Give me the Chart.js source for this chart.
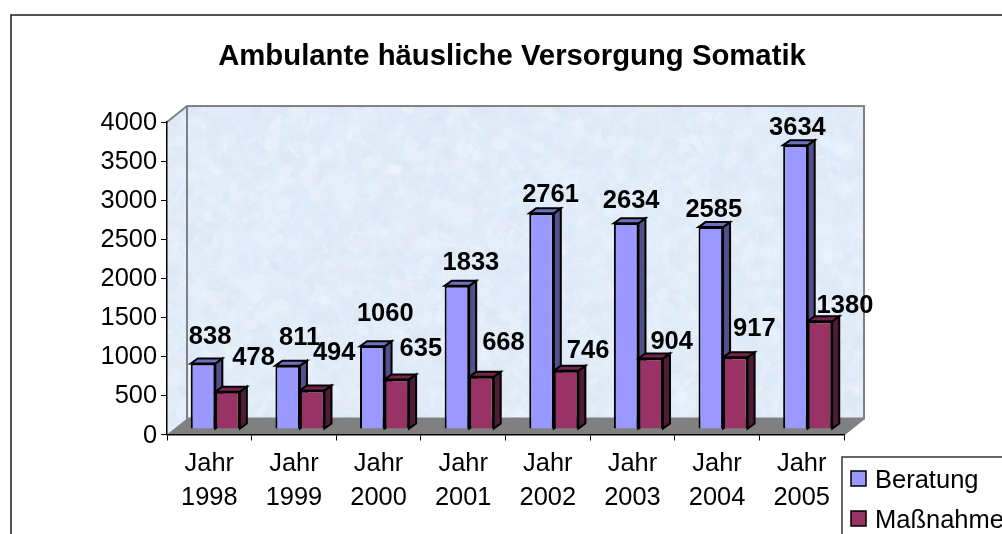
<!DOCTYPE html>
<html>
<head>
<meta charset="utf-8">
<title>Ambulante häusliche Versorgung Somatik</title>
<script src="https://cdn.jsdelivr.net/npm/chart.js@4/dist/chart.umd.min.js"></script>
<style>
  html, body { margin: 0; padding: 0; background: #fff; overflow: hidden; }
  canvas { display: block; }
</style>
</head>
<body>
<canvas id="chart" width="1002" height="534"></canvas>
<script>
const categories = [['Jahr', '1998'], ['Jahr', '1999'], ['Jahr', '2000'], ['Jahr', '2001'],
  ['Jahr', '2002'], ['Jahr', '2003'], ['Jahr', '2004'], ['Jahr', '2005']];
const beratung = [838, 811, 1060, 1833, 2761, 2634, 2585, 3634];
const massnahme = [478, 494, 635, 668, 746, 904, 917, 1380];

// the labels were moved by hand in the original, so each has its own nudge from the bar top
const labelNudge = [
  [[13, -32], [18, -33], [19, -38], [20, -28], [15, -24], [11, -28], [9, -23], [8, -23]],
  [[32, -39], [28, -43], [30, -36], [28, -39], [28, -25], [27, -22], [25, -34], [31, -21]]
];

const FONT = '"Liberation Sans", Arial, sans-serif';
const faces = [
  { front: '#9999ff', side: '#50508c', top: '#7070c0' },
  { front: '#993366', side: '#4f1c35', top: '#752548' }
];
// depth of the box and depth of the bars inside it
const wall = { dx: 20, dy: 16 };
const barShift = { dx: 6, dy: 5.5 };
const barDepth = { dx: 7, dy: 5 };

// mottled backdrop, seeded so that it looks the same on every run
function makeTexture(w, h) {
  const c = document.createElement('canvas');
  c.width = w;
  c.height = h;
  const g = c.getContext('2d');
  let seed = 1234;
  const rnd = () => (seed = (seed * 16807) % 2147483647) / 2147483647;
  g.fillStyle = '#e2edfa';
  g.fillRect(0, 0, w, h);
  const tints = ['#d8e5f6', '#edf4fd', '#dceefc', '#e7e9f4', '#dce8f7', '#f0f5fd', '#dde7f1'];
  for (let i = 0; i < 6000; i++) {
    g.fillStyle = tints[Math.floor(rnd() * tints.length)];
    g.globalAlpha = 0.15 + rnd() * 0.3;
    g.beginPath();
    g.ellipse(rnd() * w, rnd() * h, 2 + rnd() * 9, 2 + rnd() * 6, rnd() * 3, 0, Math.PI * 2);
    g.fill();
  }
  g.strokeStyle = '#f3f7fe';
  for (let i = 0; i < 700; i++) {
    const x = rnd() * w, y = rnd() * h;
    g.globalAlpha = 0.2 + rnd() * 0.3;
    g.beginPath();
    g.moveTo(x, y);
    g.lineTo(x + (rnd() - 0.5) * 30, y + (rnd() - 0.5) * 30);
    g.stroke();
  }
  return c;
}

function poly(ctx, pts, fill, stroke, lw) {
  ctx.beginPath();
  pts.forEach((p, i) => (i ? ctx.lineTo(p[0], p[1]) : ctx.moveTo(p[0], p[1])));
  ctx.closePath();
  if (fill) {
    ctx.fillStyle = fill;
    ctx.fill();
  }
  if (stroke) {
    ctx.strokeStyle = stroke;
    ctx.lineWidth = lw;
    ctx.stroke();
  }
}

const boxPlugin = {
  id: 'box',
  afterLayout(chart) {
    // title is centred over the frame, not the canvas
    chart.titleBlock.left = 22;
    chart.titleBlock.right = 1002;
  },
  beforeDraw(chart) {
    const { ctx, chartArea: a } = chart;
    const bx = a.left + wall.dx, tx = a.top - wall.dy, by = a.bottom - wall.dy;
    ctx.save();
    ctx.fillStyle = '#fff';
    ctx.fillRect(0, 0, chart.width, chart.height);
    ctx.strokeStyle = '#1a1a1a';
    ctx.lineWidth = 1.5;
    ctx.strokeRect(11, 15, chart.width + 20, chart.height + 20);

    const tex = makeTexture(a.right - a.left + 2 * wall.dx, a.bottom - a.top + 2 * wall.dy);
    ctx.save();
    poly(ctx, [[a.left, a.top], [bx, tx], [bx, by], [a.left, a.bottom]]);
    ctx.clip();
    ctx.drawImage(tex, a.left, tx);
    ctx.restore();
    ctx.drawImage(tex, wall.dx, 0, a.right - a.left, by - tx, bx, tx, a.right - a.left, by - tx);

    poly(ctx, [[a.left, a.bottom], [bx, by], [a.right + wall.dx, by], [a.right, a.bottom]], '#808080');
    ctx.strokeStyle = '#808080';
    ctx.lineWidth = 2;
    ctx.strokeRect(bx, tx, a.right - a.left, by - tx);
    ctx.beginPath();
    ctx.moveTo(a.left, a.top);
    ctx.lineTo(bx, tx);
    ctx.moveTo(a.right, a.bottom);
    ctx.lineTo(a.right + wall.dx, by);
    ctx.stroke();
    ctx.restore();
  },
  beforeDatasetsDraw(chart) {
    // side and top faces first, the library then paints the fronts over them
    const { ctx } = chart;
    ctx.save();
    chart.data.datasets.forEach((ds, i) => {
      chart.getDatasetMeta(i).data.forEach(bar => {
        const l = bar.x - bar.width / 2 + barShift.dx, r = l + bar.width;
        const t = bar.y - barShift.dy, b = bar.base - barShift.dy;
        const d = barDepth;
        poly(ctx, [[r, t], [r + d.dx, t - d.dy], [r + d.dx, b - d.dy], [r, b]], faces[i].side, '#000', 2);
        poly(ctx, [[l, t], [l + d.dx, t - d.dy], [r + d.dx, t - d.dy], [r, t]], faces[i].top, '#000', 2);
      });
    });
    ctx.restore();
  },
  beforeDatasetDraw(chart) {
    chart.ctx.save();
    chart.ctx.translate(barShift.dx, -barShift.dy);
  },
  afterDatasetDraw(chart) {
    chart.ctx.restore();
  },
  afterDatasetsDraw(chart) {
    const { ctx } = chart;
    ctx.save();
    ctx.font = 'bold 25.5px ' + FONT;
    ctx.fillStyle = '#000';
    ctx.textAlign = 'center';
    ctx.textBaseline = 'middle';
    chart.data.datasets.forEach((ds, i) => {
      chart.getDatasetMeta(i).data.forEach((bar, j) => {
        const n = labelNudge[i][j];
        ctx.fillText(String(ds.data[j]), bar.x + n[0], bar.y + n[1]);
      });
    });
    ctx.restore();
  },
  afterDraw(chart) {
    // legend box runs off the canvas like in the reference
    const { ctx } = chart;
    ctx.save();
    ctx.fillStyle = '#fff';
    ctx.fillRect(842, 457, 200, 100);
    ctx.strokeStyle = '#333';
    ctx.lineWidth = 1.5;
    ctx.strokeRect(842, 457, 200, 100);
    ctx.font = '25.5px ' + FONT;
    ctx.textAlign = 'left';
    ctx.textBaseline = 'middle';
    chart.data.datasets.forEach((ds, i) => {
      const y = 471 + i * 40;
      ctx.fillStyle = faces[i].front;
      ctx.fillRect(851, y, 15, 15);
      ctx.strokeStyle = '#000';
      ctx.strokeRect(851, y, 15, 15);
      ctx.fillStyle = '#000';
      ctx.fillText(ds.label, 875, y + 10);
    });
    ctx.restore();
  }
};

new Chart(document.getElementById('chart'), {
  type: 'bar',
  data: {
    labels: categories,
    datasets: [
      { label: 'Beratung', data: beratung, backgroundColor: faces[0].front, borderColor: '#000', borderWidth: 2,
        barPercentage: 1, categoryPercentage: 0.58 },
      { label: 'Maßnahme', data: massnahme, backgroundColor: faces[1].front, borderColor: '#000', borderWidth: 2,
        barPercentage: 1, categoryPercentage: 0.58 }
    ]
  },
  options: {
    responsive: false,
    animation: false,
    layout: { padding: { left: 0, top: 0, right: 158, bottom: 0 } },
    plugins: {
      legend: { display: false },
      tooltip: { enabled: false },
      title: {
        display: true,
        text: 'Ambulante häusliche Versorgung Somatik',
        color: '#000',
        font: { family: FONT, size: 29.3, weight: 'bold', lineHeight: 1.2 },
        padding: { top: 39.5, bottom: 47.4 }
      }
    },
    scales: {
      x: {
        afterFit: s => { s.height = 99.5; },
        grid: { offset: true, drawOnChartArea: false, color: '#000', tickLength: 6 },
        border: { display: true, color: '#000', width: 1.5 },
        ticks: {
          color: '#000',
          maxRotation: 0,
          autoSkip: false,
          padding: 7,
          font: { family: FONT, size: 25.4, lineHeight: 1.32 }
        }
      },
      y: {
        min: 0,
        max: 4000,
        afterFit: s => { s.width = 167; },
        grid: { drawOnChartArea: false, color: '#000', tickLength: 6 },
        border: { display: true, color: '#000', width: 1.5 },
        ticks: {
          stepSize: 500,
          color: '#000',
          padding: 4,
          labelOffset: 1,
          font: { family: FONT, size: 25.4 },
          callback: v => String(v)
        }
      }
    }
  },
  plugins: [boxPlugin]
});
</script>
</body>
</html>
